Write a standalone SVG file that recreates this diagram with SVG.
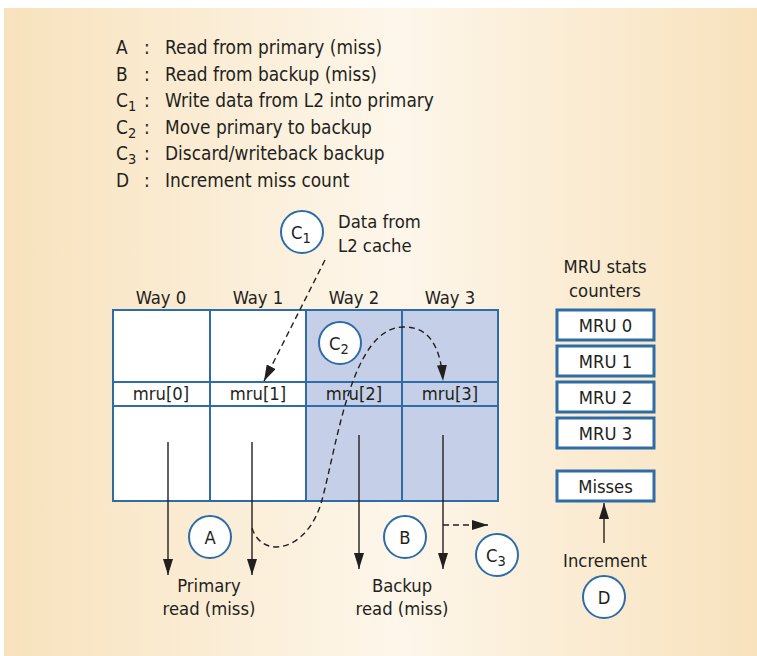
<svg xmlns="http://www.w3.org/2000/svg" width="757" height="656" viewBox="0 0 757 656">
<defs>
<linearGradient id="bg" x1="0" y1="0" x2="1" y2="0">
<stop offset="0" stop-color="#f8e2bd"/>
<stop offset="0.52" stop-color="#fdf6ea"/>
<stop offset="1" stop-color="#f8e2bd"/>
</linearGradient>
<marker id="ahb" viewBox="0 0 16 10" refX="16" refY="5" markerWidth="16" markerHeight="10" markerUnits="userSpaceOnUse" orient="auto">
<path d="M0,0 L16,5 L0,10 Z" fill="#231f20"/>
</marker>
</defs>
<style>
text{font-family:"DejaVu Sans Condensed","DejaVu Sans",sans-serif;font-stretch:condensed;fill:#231f20;font-size:18.3px}
.lg{font-size:18.9px}
.c{text-anchor:middle}
.cell{fill:none;stroke:#2d6ca6;stroke-width:2}
.box{fill:#fff;stroke:#2d6ca6;stroke-width:3}
.circ{fill:#fff;stroke:#2d6ca6;stroke-width:2}
.ln{fill:none;stroke:#231f20;stroke-width:1.4}
.dash{fill:none;stroke:#231f20;stroke-width:1.4;stroke-dasharray:6,4}
.sub{font-size:14.5px}
</style>
<rect x="4" y="8" width="753" height="648" fill="url(#bg)"/>

<g id="legend">
<text class="lg" x="116" y="54">A</text><text class="lg" x="144" y="54">:</text><text class="lg" x="165" y="54">Read from primary (miss)</text>
<text class="lg" x="116" y="80.5">B</text><text class="lg" x="144" y="80.5">:</text><text class="lg" x="165" y="80.5">Read from backup (miss)</text>
<text class="lg" x="116" y="107">C<tspan class="sub" dy="4">1</tspan></text><text class="lg" x="144" y="107">:</text><text class="lg" x="165" y="107">Write data from L2 into primary</text>
<text class="lg" x="116" y="133.5">C<tspan class="sub" dy="4">2</tspan></text><text class="lg" x="144" y="133.5">:</text><text class="lg" x="165" y="133.5">Move primary to backup</text>
<text class="lg" x="116" y="160">C<tspan class="sub" dy="4">3</tspan></text><text class="lg" x="144" y="160">:</text><text class="lg" x="165" y="160">Discard/writeback backup</text>
<text class="lg" x="116" y="186.5">D</text><text class="lg" x="144" y="186.5">:</text><text class="lg" x="165" y="186.5">Increment miss count</text>
</g>

<g id="cache">
<rect x="306" y="310" width="192" height="191" fill="#c5cfe8"/>
<rect x="113" y="310" width="193" height="191" fill="#fff"/>
<rect x="113" y="310" width="385" height="191" class="cell"/>
<line x1="113" y1="382" x2="498" y2="382" class="cell"/>
<line x1="113" y1="406" x2="498" y2="406" class="cell"/>
<line x1="210" y1="310" x2="210" y2="501" class="cell"/>
<line x1="306" y1="310" x2="306" y2="501" class="cell"/>
<line x1="402" y1="310" x2="402" y2="501" class="cell"/>
<text class="c" x="161" y="304">Way 0</text>
<text class="c" x="258" y="304">Way 1</text>
<text class="c" x="354" y="304">Way 2</text>
<text class="c" x="450" y="304">Way 3</text>
<text class="c" x="161" y="400">mru[0]</text>
<text class="c" x="258" y="400">mru[1]</text>
<text class="c" x="354" y="400">mru[2]</text>
<text class="c" x="450" y="400">mru[3]</text>
</g>

<g id="stats">
<text class="c" x="605" y="273">MRU stats</text>
<text class="c" x="605" y="297">counters</text>
<rect class="box" x="557" y="310" width="97" height="30"/><text class="c" x="605.5" y="332">MRU 0</text>
<rect class="box" x="557" y="346" width="97" height="30"/><text class="c" x="605.5" y="368">MRU 1</text>
<rect class="box" x="557" y="382" width="97" height="30"/><text class="c" x="605.5" y="404">MRU 2</text>
<rect class="box" x="557" y="418" width="97" height="30"/><text class="c" x="605.5" y="440">MRU 3</text>
<rect class="box" x="557" y="471" width="97" height="30"/><text class="c" x="605.5" y="493">Misses</text>
<text class="c" x="605" y="567">Increment</text>
</g>

<g id="labels">
<text x="338" y="228">Data from</text>
<text x="338" y="252">L2 cache</text>
<text class="c" x="209" y="592">Primary</text>
<text class="c" x="209" y="615">read (miss)</text>
<text class="c" x="402" y="592">Backup</text>
<text class="c" x="402" y="615">read (miss)</text>
</g>

<g id="connectors">
<line class="ln" x1="168" y1="442" x2="168" y2="575" marker-end="url(#ahb)"/>
<line class="ln" x1="252" y1="442" x2="252" y2="575" marker-end="url(#ahb)"/>
<line class="ln" x1="359" y1="435" x2="359" y2="569" marker-end="url(#ahb)"/>
<line class="ln" x1="443" y1="435" x2="443" y2="569" marker-end="url(#ahb)"/>
<line class="dash" x1="443" y1="525" x2="488" y2="525" marker-end="url(#ahb)"/>
<line class="ln" x1="604" y1="543" x2="604" y2="503" marker-end="url(#ahb)"/>
<line class="dash" x1="325" y1="260" x2="264" y2="381" marker-end="url(#ahb)"/>
<path class="dash" d="M252,528 C262,560 308,552 322,500 C338,440 352,328 403,327 C432,326 441,352 443,381" marker-end="url(#ahb)"/>
</g>

<g id="nodeC1"><circle class="circ" cx="302" cy="232" r="21"/><text class="c" x="301" y="239">C<tspan class="sub" dy="4">1</tspan></text></g>
<g id="nodeC2"><circle class="circ" cx="340" cy="343" r="21"/><text class="c" x="339" y="350">C<tspan class="sub" dy="4">2</tspan></text></g>
<g id="nodeA"><circle class="circ" cx="210" cy="537" r="21"/><text class="c" x="210" y="544">A</text></g>
<g id="nodeB"><circle class="circ" cx="405" cy="537" r="21"/><text class="c" x="405" y="544">B</text></g>
<g id="nodeC3"><circle class="circ" cx="497" cy="555" r="21"/><text class="c" x="496" y="562">C<tspan class="sub" dy="4">3</tspan></text></g>
<g id="nodeD"><circle class="circ" cx="604" cy="597" r="21"/><text class="c" x="604" y="604">D</text></g>
</svg>
